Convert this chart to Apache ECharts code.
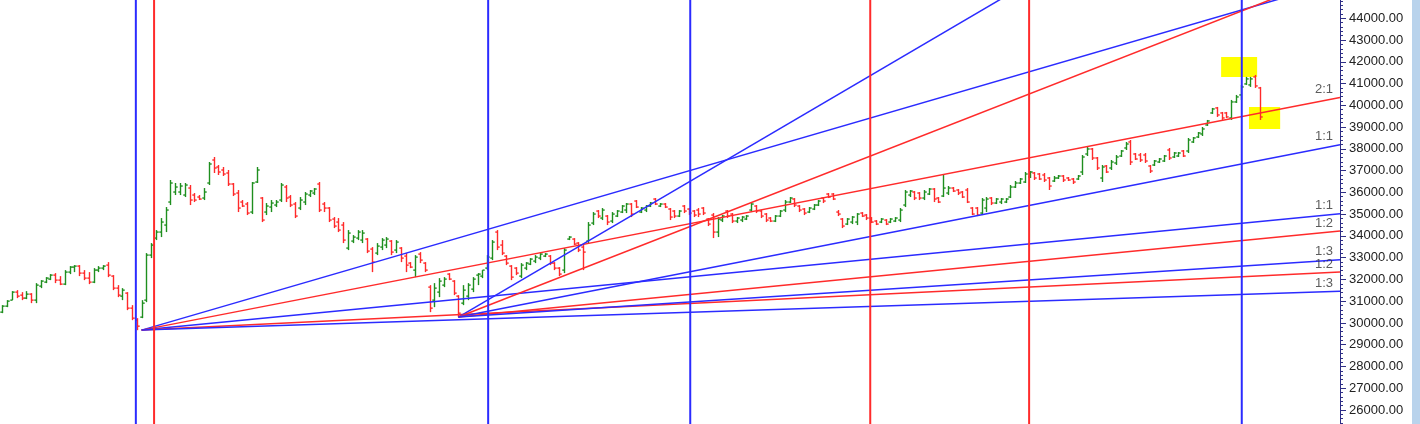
<!DOCTYPE html>
<html><head><meta charset="utf-8">
<script src="https://cdn.jsdelivr.net/npm/echarts/dist/echarts.min.js"></script>
<style>html,body{margin:0;padding:0;background:#fff}#c{width:1420px;height:424px}</style>
</head><body><div id="c"></div>
<script>
// Daily bars: [open, high, low, close]
const priceBars = [
[30496,30818,30450,30772],[30772,31048,30726,31002],[31048,31462,31048,31416],[31416,31508,31140,31232],[31278,31416,31048,31140],
[31140,31462,31094,31324],[31324,31370,30910,31048],[31048,31830,30910,31738],[31692,31968,31600,31922],[31876,32106,31830,32060],
[32014,32244,31968,32198],[32198,32290,31830,31968],[31968,32152,31738,31784],[31784,32428,31738,32336],[32336,32612,32244,32566],
[32566,32658,32336,32612],[32612,32658,32152,32290],[32290,32428,31968,32060],[32060,32336,31784,31876],[31876,32520,31830,32428],
[32428,32612,32336,32520],[32520,32658,32428,32612],[32658,32796,32106,32198],[32152,32198,31508,31600],[31600,31738,31186,31278],
[31232,31600,31048,31508],[31370,31416,30588,30680],[30680,30818,30128,30220],[30128,30220,29668,29852],[30266,31048,30220,30910],
[31048,33210,30956,33118],[33118,33670,32980,33578],[33900,34268,33808,34176],[34176,34820,33946,34636],[34498,35326,34176,35188],
[35556,36568,35418,36430],[36016,36430,35878,36246],[36016,36430,35878,36292],[35878,36430,35786,36338],[36200,36338,35418,35648],
[35878,35970,35556,35648],[35786,35878,35648,35694],[35740,36200,35648,36016],[36430,37396,36338,37304],[37488,37626,36890,37120],
[37166,37258,36798,36936],[37028,37166,36752,36844],[36890,37028,36292,36384],[36384,36430,35832,35924],[35970,36108,35096,35280],
[35556,35648,35326,35372],[35464,35556,34958,35050],[35096,36476,35004,36430],[36476,37166,36430,37028],[35740,35786,34636,34728],
[35096,35510,34958,35372],[35326,35648,35096,35510],[35418,35648,35326,35556],[35648,36430,35556,36338],[36246,36338,35556,35740],
[35786,35878,35326,35418],[35464,35556,34820,34912],[35280,35786,35188,35648],[35556,36016,35418,35924],[35878,36108,35786,36062],
[35970,36200,35878,36154],[36384,36476,35096,35188],[35464,35556,35096,35280],[35280,35326,34636,34728],[34774,34866,34360,34452],
[34636,34820,34176,34268],[34498,34636,33670,33808],[33440,34268,33348,34130],[33762,34038,33670,33946],[33900,34268,33808,34176],
[33808,34268,33670,34130],[33854,33900,33210,33302],[33394,33486,32336,32796],[33210,33670,33118,33532],[33486,33900,33348,33808],
[33578,33946,33440,33854],[33762,33808,33118,33256],[33348,33808,33210,33716],[33440,33486,32796,32980],[33072,33210,32336,32658],
[32750,32796,32520,32566],[32428,33118,32106,33026],[33164,33256,32750,32888],[32750,32796,32336,32428],[31646,31738,30496,30680],
[31048,31830,30726,31600],[31416,32060,31186,31922],[31738,32106,31646,32014],[32244,32290,31968,32014],[31922,31968,31278,31370],
[31232,31278,30266,30450],[30910,31738,30818,31508],[31232,31830,31048,31738],[31554,32106,31416,32014],[32198,32290,31738,32244],
[32152,32428,32060,32428],[32520,33118,32428,33026],[32980,33808,32888,33716],[34176,34268,33348,33486],[33578,33808,33118,33210],
[33072,33118,32658,32750],[32612,32658,31968,32106],[32520,32566,32198,32290],[32152,32750,32060,32658],[32520,32796,32428,32750],
[32704,32980,32658,32934],[32842,33118,32750,33026],[32980,33210,32888,33164],[33072,33210,33026,33164],[33072,33118,32658,32750],
[32750,32796,32428,32520],[32520,32566,32152,32244],[32428,33440,32290,33348],[33854,33992,33808,33946],[33854,33900,33578,33624],
[33670,33716,33256,33348],[33486,33578,32428,33256],[33762,34636,33670,34498],[34590,35096,34498,35004],[35142,35188,34820,34912],
[34820,35280,34728,35188],[34912,34958,34498,34636],[34682,35096,34590,35004],[34912,35188,34866,35142],[35096,35418,35050,35372],
[35188,35510,35050,35464],[35464,35510,34866,35004],[35602,35648,35280,35326],[35096,35326,35050,35280],[35188,35418,35096,35372],
[35372,35556,35326,35510],[35694,35740,35418,35464],[35372,35510,35326,35464],[35464,35510,35280,35326],[35234,35280,34728,34866],
[35142,35188,34820,34912],[34912,35188,34866,35142],[35372,35418,35050,35142],[35234,35280,34958,35050],[35142,35188,34866,34958],
[35188,35280,34866,35004],[35280,35326,34958,35050],[34774,34820,34452,34544],[34958,35050,33900,34176],[34176,34866,33946,34774],
[34728,34958,34636,34912],[35142,35188,34820,34912],[35004,35050,34590,34682],[34682,34866,34590,34820],[34728,34912,34636,34866],
[34774,34958,34728,34912],[35188,35510,35096,35464],[35372,35418,35050,35142],[35142,35188,34820,34912],[35004,35050,34636,34728],
[34820,34866,34636,34682],[34682,34958,34636,34912],[34912,35188,34866,35142],[35188,35648,35096,35556],[35556,35786,35510,35740],
[35694,35740,35326,35418],[35372,35418,35096,35188],[35234,35280,34958,35050],[35096,35326,35050,35280],[35234,35464,35188,35418],
[35418,35648,35372,35602],[35740,35786,35510,35602],[35924,35970,35740,35786],[35924,35970,35648,35694],[35096,35188,34912,35004],
[34774,34820,34360,34452],[34544,34820,34498,34774],[34636,34912,34544,34866],[34636,35050,34498,35004],[35050,35096,34866,34912],
[34958,35004,34728,34820],[34820,34866,34590,34636],[34682,34728,34498,34544],[34636,34820,34590,34774],[34728,34774,34498,34544],
[34636,34820,34590,34774],[34682,34866,34636,34820],[34728,35280,34636,35188],[35418,36108,35326,36016],[35878,36108,35786,36062],
[36016,36062,35648,35740],[35970,36016,35648,35740],[35740,36108,35648,36016],[35924,36200,35878,36154],[36154,36200,35556,35694],
[35740,35786,35510,35556],[35832,36798,35786,36200],[35970,36292,35878,36200],[36200,36246,36016,36062],[36108,36154,35878,35970],
[36016,36062,35740,35786],[36108,36200,35510,35556],[35280,35326,34958,35004],[35280,35326,34912,34958],[35050,35740,34958,35648],
[35280,35786,35096,35694],[35740,35786,35418,35510],[35510,35740,35464,35694],[35556,35740,35464,35694],[35556,35740,35510,35694],
[35786,36338,35740,36246],[36246,36522,36200,36430],[36430,36660,36384,36614],[36476,36936,36430,36844],[36706,36982,36660,36936],
[36890,36936,36568,36660],[36844,36890,36568,36614],[36798,36890,36476,36568],[36660,36706,36108,36292],[36522,36752,36476,36660],
[36660,36798,36614,36752],[36752,36798,36476,36568],[36660,36706,36522,36568],[36614,36660,36384,36476],[36614,36798,36568,36752],
[36936,37718,36798,37626],[37764,38086,37672,37994],[37994,38040,37488,37580],[37580,37626,37028,37120],[36660,37258,36476,37166],
[37212,37258,36890,36936],[37120,37488,37028,37396],[37350,37718,37258,37626],[37672,37948,37626,37902],[38040,38316,37948,38224],
[38316,38408,37258,37396],[37764,37810,37488,37534],[37718,37810,37396,37488],[37718,37810,37350,37442],[37212,37258,36890,36982],
[37258,37488,37212,37442],[37396,37580,37350,37534],[37442,37718,37396,37672],[37948,38040,37488,37580],[37626,37856,37580,37810],
[37672,37856,37626,37810],[37902,37948,37626,37672],[37902,38500,37810,38408],[38316,38546,38270,38500],[38546,38776,38500,38730],
[38684,39006,38592,38914],[39098,39328,39052,39282],[39650,39880,39604,39834],[39880,39926,39466,39558],[39650,39696,39328,39420],
[39650,39696,39420,39466],[39420,40248,39328,40156],[40156,40478,40110,40386],[40478,40938,40248,40846],[40984,41306,40938,41214],
[40938,41306,40846,41214],[41306,41398,40800,40892],[40800,40846,39328,39466]
];

// time-cycle vertical lines (bar index positions) and their colours
const cycleBars = [27.8, 31.6, 101.2, 143.3, 180.8, 213.9, 258.2];
const cycleKinds = ['blue', 'red', 'blue', 'blue', 'red', 'red', 'blue'];

// Gann fan pivots
const pivotBars = [29, 95];
const pivotPrices = [29670, 30270];
const pivotUnits = [21.4, 43.1];           // points per bar for 1x1
const fanNames = ['3:1', '2:1', '1:1', '1:2', '1:3'];
const fanRatios = [3, 2, 1, 1/2, 1/3];
const fanKinds = ['blue', 'red', 'blue', 'red', 'blue'];

// highlighted boxes: [barFrom, barTo, priceLow, priceHigh]
const highlightBoxes = [[253.9, 261.4, 41306, 42226], [259.7, 266.2, 38914, 39926]];

// price axis
const priceMin = 25000, priceMax = 45000, priceStep = 1000;

const BLUE = '#2b2bff', RED = '#ff2b2b', UP = '#1f8f1f', DOWN = '#ff2a2a';
const kindColor = k => (k === 'blue' ? BLUE : RED);

const slotCount = 1340 / 4.8;
const xMin = -0.5, xMax = xMin + slotCount;

const chart = echarts.init(document.getElementById('c'), null, {renderer: 'canvas'});

const series = [];

// yellow highlight boxes
series.push({
  type: 'custom', z: 1, silent: true,
  data: highlightBoxes,
  encode: {x: [0, 1], y: [2, 3]},
  renderItem(params, api) {
    const a = api.coord([api.value(0), api.value(3)]);
    const b = api.coord([api.value(1), api.value(2)]);
    return {type: 'rect', shape: {x: a[0], y: a[1], width: b[0] - a[0], height: b[1] - a[1]},
      style: {fill: '#ffff00'}};
  }
});

// OHLC bars
series.push({
  type: 'custom', z: 2, silent: true,
  data: priceBars.map((d, i) => [i, d[0], d[1], d[2], d[3]]),
  encode: {x: 0, y: [1, 2, 3, 4]},
  renderItem(params, api) {
    const i = api.value(0);
    const o = api.coord([i, api.value(1)]);
    const h = api.coord([i, api.value(2)]);
    const l = api.coord([i, api.value(3)]);
    const c = api.coord([i, api.value(4)]);
    const col = api.value(4) >= api.value(1) ? UP : DOWN;
    const x = Math.round(o[0]) + 0.5;
    const tk = 2.2, lw = 1.4;
    const st = {stroke: col, lineWidth: lw};
    return {type: 'group', children: [
      {type: 'line', shape: {x1: x, y1: h[1], x2: x, y2: l[1]}, style: st},
      {type: 'line', shape: {x1: x - tk, y1: o[1], x2: x, y2: o[1]}, style: st},
      {type: 'line', shape: {x1: x, y1: c[1], x2: x + tk, y2: c[1]}, style: st}
    ]};
  }
});

// vertical cycle lines
cycleBars.forEach((b, k) => {
  series.push({
    type: 'line', z: 4, silent: true, symbol: 'none', animation: false,
    data: [[b, priceMin], [b, priceMax]],
    lineStyle: {color: kindColor(cycleKinds[k]), width: 2}
  });
});

// Gann fans
const labelPts = [];
pivotBars.forEach((pb, p) => {
  fanRatios.forEach((r, f) => {
    const endVal = pivotPrices[p] + pivotUnits[p] * r * (xMax - pb);
    series.push({
      type: 'line', z: 3, silent: true, symbol: 'none', animation: false, clip: true,
      data: [[pb, pivotPrices[p]], [xMax, endVal]],
      lineStyle: {color: kindColor(fanKinds[f]), width: 1.5}
    });
    if (endVal < priceMax) labelPts.push({value: [xMax, endVal], name: fanNames[f]});
  });
});

series.push({
  type: 'scatter', z: 5, silent: true, symbolSize: 0, clip: false, animation: false,
  data: labelPts,
  label: {show: true, position: 'left', distance: 7, offset: [0, -8],
    formatter: p => p.name, color: '#333', fontSize: 13, fontFamily: 'Liberation Sans, Arial, sans-serif'}
});

chart.setOption({
  animation: false,
  backgroundColor: '#ffffff',
  grid: {left: 0, right: 80, top: -3.46, bottom: -7.74, containLabel: false, outerBoundsMode: 'none'},
  xAxis: {type: 'value', min: xMin, max: xMax, show: false},
  yAxis: {
    type: 'value', position: 'right', min: priceMin, max: priceMax, interval: priceStep,
    axisLine: {show: true, onZero: false, lineStyle: {color: '#2e2e86', width: 1}},
    axisTick: {show: true, length: 6, lineStyle: {color: '#2e2e86'}},
    minorTick: {show: true, splitNumber: 5, length: 3, lineStyle: {color: '#2e2e86'}},
    splitLine: {show: false},
    axisLabel: {formatter: v => v.toFixed(2), margin: 9, color: '#222', fontSize: 13,
      fontFamily: 'Liberation Sans, Arial, sans-serif', showMaxLabel: true, showMinLabel: true}
  },
  graphic: [{type: 'rect', left: 1412, top: 0, shape: {width: 8, height: 424}, style: {fill: '#b9d3ec'}, z: 100}],
  series
});
</script>
</body></html>
